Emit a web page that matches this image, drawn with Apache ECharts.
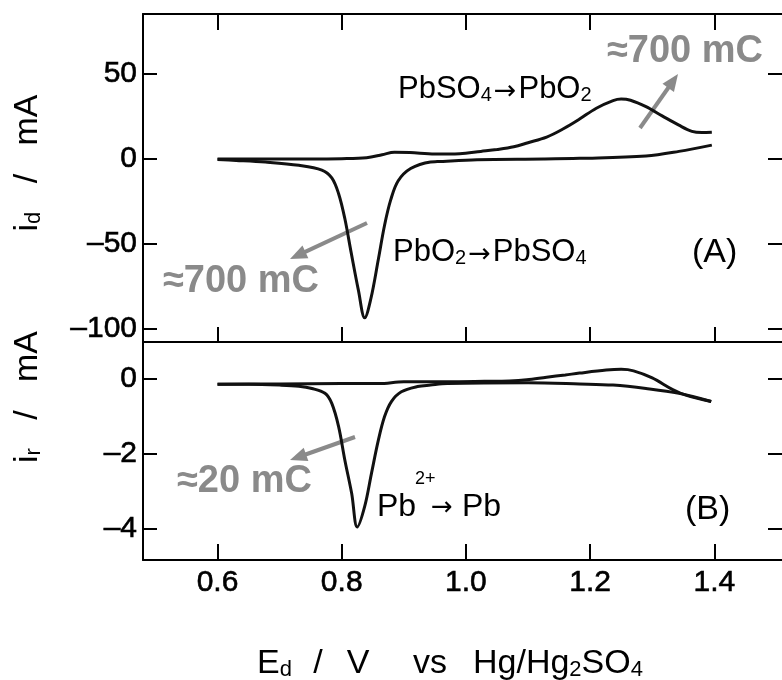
<!DOCTYPE html>
<html>
<head>
<meta charset="utf-8">
<script src="https://cdn.jsdelivr.net/npm/echarts@6/dist/echarts.min.js"></script>
<style>
html,body{margin:0;padding:0;background:#fff;}
#chart{width:782px;height:680px;}
</style>
</head>
<body>
<div id="chart"></div>
<script>
// ---- data ----
const E_TICKS = [0.6, 0.8, 1.0, 1.2, 1.4];
const A_TICKS = [-100, -50, 0, 50];
const B_TICKS = [-4, -2, 0];

// Panel A: anodic (forward) sweep 0.6 -> 1.4 V
const topFwdE = [0.60,0.65,0.70,0.75,0.80,0.84,0.865,0.885,0.91,0.95,0.99,1.024,1.05,1.077,1.10,1.13,1.157,1.183,1.21,1.237,1.25,1.265,1.29,1.316,1.343,1.364,1.38,1.396];
const topFwdI = [0,0,0,0,0.2,0.8,2.5,4.0,3.8,2.9,3.1,4.5,5.6,7.2,9.6,12.9,17.8,23.5,29.9,34.4,35.3,34.6,30.8,25.4,19.9,16.3,15.6,15.8];
// Panel A: cathodic (reverse) sweep 1.4 -> 0.6 V
const topRevE = [1.396,1.343,1.29,1.183,1.125,1.018,0.954,0.943,0.911,0.891,0.879,0.869,0.859,0.847,0.837,0.827,0.815,0.805,0.795,0.784,0.768,0.731,0.677,0.63,0.60];
const topRevI = [8.2,4.5,1.8,0.4,0,-0.4,-1.5,-1.7,-5.6,-12.8,-23.9,-38.9,-58.9,-82,-93.4,-77.4,-54.6,-35,-20.4,-11.1,-6.5,-3.7,-1.8,-0.8,-0.3];

// Panel B
const botFwdE = [0.60,0.70,0.80,0.86,0.90,0.94,0.97,1.03,1.07,1.098,1.13,1.16,1.183,1.226,1.25,1.27,1.30,1.333,1.354,1.395];
const botFwdI = [-0.14,-0.13,-0.12,-0.12,-0.07,-0.07,-0.07,-0.06,-0.05,-0.02,0.05,0.11,0.16,0.24,0.26,0.22,0.03,-0.28,-0.43,-0.6];
const botRevE = [1.395,1.343,1.29,1.237,1.183,1.10,0.97,0.943,0.922,0.896,0.88,0.869,0.859,0.848,0.837,0.825,0.816,0.805,0.795,0.784,0.773,0.752,0.731,0.70,0.65,0.60];
const botRevI = [-0.6,-0.38,-0.25,-0.16,-0.13,-0.1,-0.12,-0.16,-0.2,-0.34,-0.6,-1.0,-1.63,-2.51,-3.4,-3.95,-3.05,-2.16,-1.27,-0.65,-0.38,-0.25,-0.19,-0.16,-0.14,-0.14];

// ---- chart ----
const FONT = '"Liberation Sans", Arial, sans-serif';
const ARROW_FONT = '"DejaVu Sans", sans-serif';
const GRAY = '#8a8a8a';
const zip = (a, b) => a.map((v, i) => [v, b[i]]);
const minusFmt = v => String(v).replace('-', '\u2013');

const labelStyle = { color: '#000', fontSize: 30, fontFamily: FONT, textBorderColor: '#000', textBorderWidth: 0.6 };

function xAxisDef(gridIndex, position, showLabel, tickLen) {
  return {
    type: 'value', gridIndex, position, min: 0.48, max: 1.509,
    axisLine: { onZero: false, lineStyle: { color: '#000', width: 2 } },
    axisTick: { inside: true, length: tickLen, customValues: E_TICKS, lineStyle: { color: '#000', width: 2 } },
    axisLabel: Object.assign({ show: showLabel, customValues: E_TICKS, formatter: v => v.toFixed(1), margin: 8 }, labelStyle),
    splitLine: { show: false }
  };
}
function yAxisDef(gridIndex, position, min, max, ticks, showLabel, showLine) {
  return {
    type: 'value', gridIndex, position, min, max,
    axisLine: { show: showLine, onZero: false, lineStyle: { color: '#000', width: 2 } },
    axisTick: { show: true, inside: true, length: 14, customValues: ticks, lineStyle: { color: '#000', width: 2 } },
    axisLabel: Object.assign({ show: showLabel, customValues: ticks, formatter: minusFmt, margin: 6 }, labelStyle),
    splitLine: { show: false }
  };
}
function lineSeries(xi, yi, data) {
  return {
    type: 'line', xAxisIndex: xi, yAxisIndex: yi, data, showSymbol: false,
    smooth: 0.35, lineStyle: { color: '#111', width: 3 }, silent: true
  };
}

const mainRich = {
  m: { fontSize: 31, fontFamily: FONT, lineHeight: 32, verticalAlign: 'bottom', fill: '#000', textStroke: '#000', textStrokeWidth: 0.5 },
  s: { fontSize: 20, fontFamily: FONT, lineHeight: 26, verticalAlign: 'bottom', fill: '#000' },
  a: { fontSize: 27, fontFamily: ARROW_FONT, lineHeight: 32, verticalAlign: 'bottom', fill: '#000', padding: [0, 2, 0, 2] }
};
function richText(x, y, text) {
  return {
    type: 'text', x, y, silent: true,
    style: { text, rich: mainRich, align: 'left', verticalAlign: 'middle', fill: '#000' }
  };
}
function plainText(x, y, text, size, color, weight, family) {
  return {
    type: 'text', x, y, silent: true,
    style: { text, fontSize: size, fontFamily: family || FONT, fontWeight: weight || 'normal', fill: color || '#000',
      align: 'left', verticalAlign: 'middle' }
  };
}
function arrow(x1, y1, x2, y2) {
  const dx = x2 - x1, dy = y2 - y1, L = Math.hypot(dx, dy);
  const ux = dx / L, uy = dy / L, hl = 17, hw = 7;
  const bx = x2 - ux * hl, by = y2 - uy * hl;
  return [
    { type: 'line', silent: true, shape: { x1, y1, x2: bx + ux * 2, y2: by + uy * 2 },
      style: { stroke: GRAY, lineWidth: 4 } },
    { type: 'polygon', silent: true,
      shape: { points: [[x2, y2], [bx - uy * hw, by + ux * hw], [bx + uy * hw, by - ux * hw]] },
      style: { fill: GRAY } }
  ];
}

const titleRich = {
  m: { fontSize: 34, fontFamily: FONT, lineHeight: 36, verticalAlign: 'bottom', fill: '#000' },
  s: { fontSize: 22, fontFamily: FONT, lineHeight: 29, verticalAlign: 'bottom', fill: '#000' }
};
function titleText(x, y, text, align, rotation) {
  return { type: 'text', x, y, rotation: rotation || 0, silent: true,
    style: { text, rich: titleRich, align, verticalAlign: 'middle' } };
}

const graphic = [
  // axis titles
  titleText(27, 163, '{m|i}{s|d}{m|   /   mA}', 'center', Math.PI / 2),
  titleText(27, 397, '{m|i}{s|r}{m|   /   mA}', 'center', Math.PI / 2),
  titleText(257, 663, '{m|E}{s|d}', 'left'),
  titleText(318, 663, '{m|/}', 'center'),
  titleText(358, 663, '{m|V}', 'center'),
  titleText(430, 663, '{m|vs}', 'center'),
  titleText(473, 663, '{m|Hg/Hg}{s|2}{m|SO}{s|4}', 'left'),

  // panel A annotations
  richText(398, 89, '{m|PbSO}{s|4}{a|\u2192}{m|PbO}{s|2}'),
  richText(393, 252, '{m|PbO}{s|2}{a|\u2192}{m|PbSO}{s|4}'),
  plainText(692, 253, '(A)', 34),
  plainText(607, 52, '\u2248700 mC', 38, GRAY, 'bold'),
  plainText(163, 282, '\u2248700 mC', 38, GRAY, 'bold'),

  // panel B annotations
  plainText(377, 507, 'Pb', 32),
  plainText(415, 479, '2+', 18),
  plainText(431, 508, '\u2192', 26, '#000', 'normal', ARROW_FONT),
  plainText(462, 507, 'Pb', 32),
  plainText(685, 510, '(B)', 34),
  plainText(177, 482, '\u224820 mC', 38, GRAY, 'bold')
]
  .concat(arrow(640, 128, 678, 74))
  .concat(arrow(367, 223, 290, 259))
  .concat(arrow(355, 437, 290, 460));

const chart = echarts.init(document.getElementById('chart'), null, { renderer: 'canvas' });
chart.setOption({
  animation: false,
  backgroundColor: '#fff',
  grid: [
    { left: 143, top: 14, width: 644, height: 328 },
    { left: 143, top: 342, width: 644, height: 218 }
  ],
  xAxis: [
    xAxisDef(0, 'bottom', false, 15),
    xAxisDef(0, 'top', false, 16),
    xAxisDef(1, 'bottom', true, 16)
  ],
  yAxis: [
    yAxisDef(0, 'left', -107.6, 85.3, A_TICKS, true, true),
    yAxisDef(0, 'right', -107.6, 85.3, A_TICKS, false, false),
    yAxisDef(1, 'left', -4.83, 0.99, B_TICKS, true, true),
    yAxisDef(1, 'right', -4.83, 0.99, B_TICKS, false, false)
  ],
  series: [
    lineSeries(0, 0, zip(topFwdE, topFwdI)),
    lineSeries(0, 0, zip(topRevE, topRevI)),
    lineSeries(2, 2, zip(botFwdE, botFwdI)),
    lineSeries(2, 2, zip(botRevE, botRevI))
  ],
  graphic
});
</script>
</body>
</html>
